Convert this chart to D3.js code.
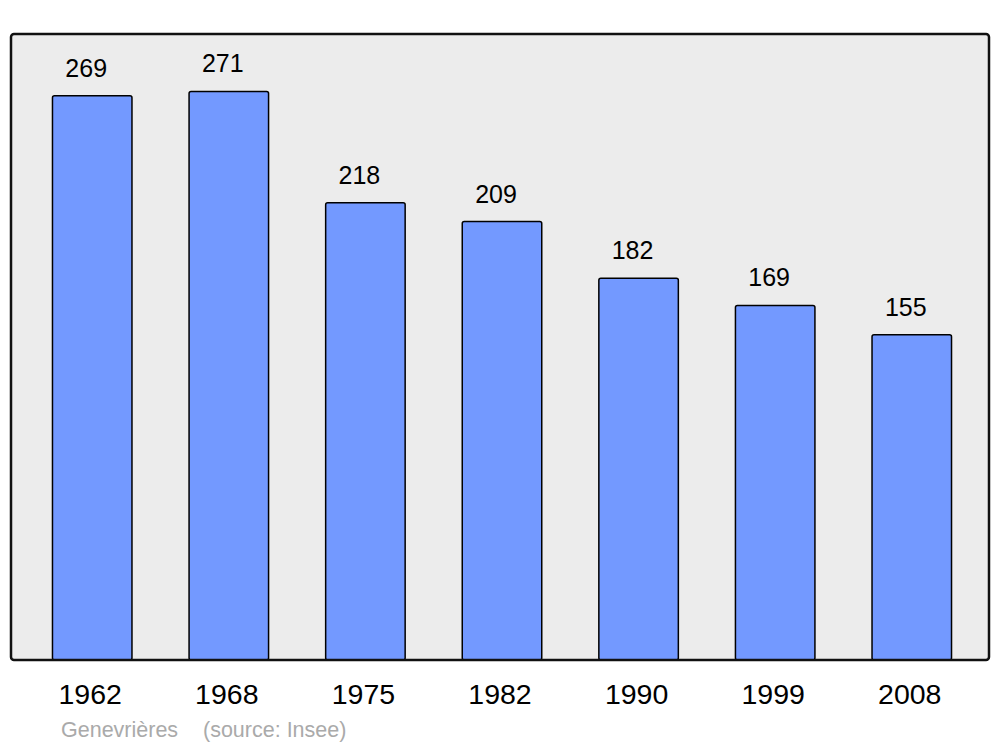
<!DOCTYPE html>
<html><head><meta charset="utf-8">
<script src="https://cdn.jsdelivr.net/npm/d3@7"></script>
<style>html,body{margin:0;padding:0;background:#fff;}svg{display:block;}</style>
</head><body>
<script>
const years = ["1962","1968","1975","1982","1990","1999","2008"];
const population = [269,271,218,209,182,169,155];
const commune = "Genevrières";
const source = "(source: Insee)";

const W = 1000, H = 747;
const svg = d3.select("body").append("svg").attr("width", W).attr("height", H);
const font = "'Liberation Sans', Arial, sans-serif";

const plot = {x0: 11, y0: 34, x1: 989, y1: 660};

svg.append("rect")
  .attr("x", plot.x0).attr("y", plot.y0)
  .attr("width", plot.x1 - plot.x0).attr("height", plot.y1 - plot.y0)
  .attr("rx", 3).attr("ry", 3)
  .attr("fill", "#ececec");

const x = d3.scaleBand().domain(years).range([13, 991]).paddingInner(0.418).paddingOuter(0.289);
const y = d3.scaleLinear().domain([0, 298.4]).range([plot.y1, plot.y0]);

const data = years.map((yr, i) => ({year: yr, value: population[i]}));

svg.append("g").selectAll("rect").data(data).join("rect")
  .attr("x", d => x(d.year))
  .attr("y", d => y(d.value))
  .attr("width", x.bandwidth())
  .attr("height", d => y(0) - y(d.value))
  .attr("rx", 2).attr("ry", 2)
  .attr("fill", "#7399ff").attr("stroke", "#000").attr("stroke-width", 1.5);

svg.append("rect")
  .attr("x", plot.x0).attr("y", plot.y0)
  .attr("width", plot.x1 - plot.x0).attr("height", plot.y1 - plot.y0)
  .attr("rx", 3).attr("ry", 3)
  .attr("fill", "none").attr("stroke", "#111").attr("stroke-width", 2.5);

svg.append("g").selectAll("text").data(data).join("text")
  .attr("x", d => x(d.year) + x.bandwidth()/2 - 6)
  .attr("y", d => y(d.value) - 19)
  .attr("text-anchor", "middle")
  .attr("font-family", font).attr("font-size", 25).attr("fill", "#000")
  .text(d => d.value);

const xAxis = d3.axisBottom(x).tickSize(0).tickPadding(0);
const gx = svg.append("g").attr("transform", `translate(0,${plot.y1})`).call(xAxis);
gx.select(".domain").remove();
gx.selectAll("text")
  .attr("dy", null).attr("y", 44).attr("x", -2)
  .attr("font-family", font).attr("font-size", 28.5).attr("fill", "#000");

svg.append("text").attr("x", 61).attr("y", 737)
  .attr("font-family", font).attr("font-size", 21.5).attr("fill", "#aaaaaa")
  .text(commune);
svg.append("text").attr("x", 203).attr("y", 737)
  .attr("font-family", font).attr("font-size", 21.5).attr("fill", "#aaaaaa")
  .text(source);
</script>
</body></html>
